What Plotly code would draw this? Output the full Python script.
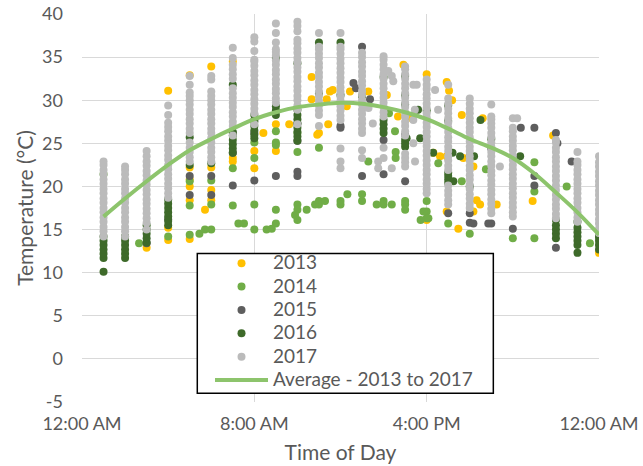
import plotly.graph_objects as go

# ---------------- data ----------------
hours = list(range(1, 25))

# 2017 (light grey) – values per hour column 1..24
t2017 = [
    [14.2, 14.8, 15.3, 15.9, 16.4, 17.0, 17.5, 18.1, 18.6, 19.2, 19.7, 20.3, 20.8, 21.4, 21.9, 22.5, 22.9],
    [14.2, 14.8, 15.3, 15.9, 16.4, 17.0, 17.5, 18.1, 18.6, 19.2, 19.7, 20.3, 20.8, 21.4, 21.9, 22.3],
    [15.0, 15.8, 16.3, 16.9, 17.4, 18.0, 18.5, 19.1, 19.6, 20.2, 20.7, 21.3, 21.8, 22.4, 22.9, 23.5, 24.1],
    [18.7, 19.2, 19.8, 20.3, 20.9, 21.4, 22.0, 22.5, 23.1, 23.6, 24.2, 24.7, 25.3, 25.8, 26.4, 26.9, 27.4, 28.3, 29.4],
    [22.9, 23.4, 24.0, 24.5, 25.1, 26.2, 26.7, 27.3, 27.8, 28.4, 28.9, 29.5, 30.0, 30.5, 30.9, 31.8, 32.8],
    [22.9, 23.4, 24.0, 24.5, 25.1, 25.6, 26.2, 26.7, 27.3, 27.8, 28.4, 28.9, 29.5, 30.0, 30.5, 31.0, 32.4, 32.8],
    [25.9, 27.0, 27.5, 28.1, 28.6, 29.2, 29.7, 30.3, 30.8, 31.4, 32.5, 33.0, 33.6, 34.1, 34.9, 36.1],
    [27.2, 28.5, 29.0, 29.6, 30.1, 30.7, 31.2, 31.8, 32.3, 32.9, 33.4, 34.0, 34.5, 34.7, 35.7, 36.8, 37.3],
    [29.7, 30.2, 30.8, 31.3, 31.9, 32.4, 33.0, 33.5, 34.1, 34.6, 35.2, 35.6, 35.9, 36.7, 37.8, 38.9],
    [27.2, 28.9, 29.4, 30.0, 30.5, 31.1, 31.6, 32.2, 32.7, 33.3, 33.8, 34.4, 34.9, 35.5, 36.0, 36.6, 37.0, 38.0, 38.6, 39.1],
    [27.0, 28.3, 28.8, 29.4, 29.9, 30.5, 31.0, 31.6, 32.1, 32.7, 33.2, 33.8, 34.3, 34.9, 35.4, 35.9, 36.2, 37.8],
    [22.1, 22.9, 24.4, 27.7, 28.2, 28.8, 29.3, 29.9, 30.4, 31.0, 31.5, 32.1, 32.6, 33.2, 33.7, 34.3, 34.8, 35.4, 35.9, 36.2, 37.8],
    [23.3, 24.2, 26.2, 26.7, 27.3, 27.8, 28.4, 28.9, 29.5, 30.0, 30.6, 31.1, 31.7, 32.2, 32.8, 33.3, 33.9, 34.4, 35.0, 35.5],
    [23.3, 24.5, 28.1, 28.6, 29.2, 29.7, 30.3, 30.8, 31.4, 31.9, 32.5, 33.0, 33.6, 34.1, 34.7, 35.1],
    [22.3, 22.8, 23.3, 23.8, 25.9, 26.4, 27.0, 27.5, 28.1, 28.6, 29.2, 29.7, 30.3, 30.8, 31.4, 31.9, 32.5, 33.0, 33.6, 33.9],
    [19.2, 19.7, 20.3, 20.8, 21.4, 21.9, 22.5, 23.0, 23.6, 24.1, 24.7, 25.2, 25.8, 26.3, 26.9, 27.4, 28.0, 28.5, 29.1, 29.6, 30.2, 30.7, 31.3, 31.8, 32.4],
    [17.9, 18.4, 19.0, 19.5, 20.1, 21.9, 22.4, 23.0, 23.5, 24.1, 24.6, 25.2, 25.7, 26.3, 26.8, 27.4, 27.9, 28.5, 29.0, 29.6, 30.2, 31.8],
    [17.5, 18.0, 18.6, 19.1, 19.7, 20.2, 20.8, 21.3, 21.9, 22.4, 23.0, 23.5, 24.1, 24.6, 25.2, 25.7, 26.3, 26.8, 27.4, 27.9, 28.5, 29.0, 29.6, 30.2],
    [16.9, 17.4, 18.0, 18.5, 19.1, 19.6, 20.2, 20.7, 21.3, 21.8, 22.4, 22.9, 23.5, 24.0, 24.6, 25.1, 25.7, 26.2, 26.8, 27.3, 27.8, 28.1, 29.5],
    [16.5, 17.0, 17.6, 18.1, 18.7, 19.2, 19.8, 20.3, 20.9, 21.4, 22.0, 22.5, 23.1, 23.6, 24.2, 24.7, 25.3, 25.8, 26.4, 26.8, 27.9],
    [],
    [16.3, 16.8, 17.4, 17.9, 18.5, 19.0, 19.6, 20.1, 20.7, 21.2, 21.8, 22.3, 22.9, 23.4, 24.0, 24.5, 25.1, 25.4],
    [15.9, 16.4, 17.0, 17.5, 18.1, 18.6, 19.2, 19.7, 20.3, 20.8, 21.4, 21.9, 22.5, 22.9, 24.0],
    [14.6, 15.1, 15.7, 16.2, 16.8, 17.3, 17.9, 18.4, 19.0, 19.5, 20.1, 20.6, 21.2, 21.7, 22.3, 22.8, 23.5],
]
x2017_extra = [14.22, 14.38, 14.45, 15.38, 15.54, 16.39, 16.53, 19.4, 13.75, 13.75, 14.38, 15.46, 15.45, 15.38, 15.38, 13.3, 13.5, 20.2]
y2017_extra = [33.4, 32.8, 32.2, 31.8, 31.8, 31.2, 28.9, 22.3, 22.9, 22.1, 22.1, 22.9, 28.9, 27.7, 25.0, 29.1, 27.3, 27.9]

# 2016 (dark green)
t2016 = [
    [10.1, 11.7, 12.2, 12.7, 13.2, 13.7, 14.2],
    [11.7, 12.2, 12.7, 13.2, 13.7, 14.2],
    [13.5, 14.0, 14.5, 15.0, 15.5],
    [15.5, 16.0, 16.5, 17.0, 17.5, 18.0, 18.5],
    [22.5, 25.7],
    [22.7],
    [23.9, 24.4, 24.9, 25.4, 25.9, 26.3, 31.8],
    [25.6, 26.0, 26.5, 27.0, 27.5, 28.3],
    [28.3, 28.8, 29.3, 34.9],
    [25.3, 25.8, 26.3, 26.8, 27.3, 27.8, 28.3, 28.9, 34.3],
    [30.8, 36.7],
    [30.6, 36.7],
    [30.5],
    [26.2, 26.7, 27.2, 27.7, 32.7],
    [24.6, 25.0, 25.4, 29.5, 30.6, 32.8],
    [28.8],
    [20.4, 20.8, 21.2, 21.6, 27.6, 29.4],
    [23.5, 20.0],
    [25.5],
    [],
    [],
    [14.0, 14.5, 15.0, 15.5, 16.1],
    [12.3, 13.2, 13.7, 14.2, 14.7, 15.2, 15.9],
    [12.7, 13.2, 13.7, 14.1, 14.4],
]
x2016_extra = [15.6, 15.07, 15.7, 16.3, 17.2, 17.55, 17.24, 18.5, 20.34, 18.2]
y2016_extra = [28.9, 25.6, 25.6, 23.9, 23.9, 23.5, 20.6, 27.7, 23.5, 23.5]

# 2015 (dark grey)
t2015 = [
    [], [], [13.4], [16.2], [21.2, 19.0], [21.2, 19.0], [26.2, 23.9, 20.1],
    [27.7, 26.2, 20.7], [21.2], [27.3, 25.3, 21.7, 21.2], [], [27.0, 26.8],
    [36.2, 21.2], [25.4, 21.4], [26.0, 20.6], [], [16.9], [16.9, 15.8],
    [24.4, 15.7], [15.1], [26.8, 21.2, 20.1], [26.2, 12.9], [], [],
]
x2015_extra = [12.6, 12.72, 13.37, 20.37, 22.07, 22.73, 18.17, 18.86]
y2015_extra = [32.0, 31.4, 30.1, 26.8, 25.0, 22.9, 15.7, 15.7]

# 2014 (green)
t2014 = [
    [21.4], [], [], [14.2], [20.6, 17.8, 14.4], [20.7, 17.9, 15.0], [22.1, 17.8],
    [25.1, 23.3, 17.9, 15.0], [26.4, 25.1, 24.8, 17.3, 15.7], [26.2, 24.0, 17.9, 17.3, 16.1],
    [24.5, 18.3, 17.9], [18.3, 17.9], [19.1, 18.3], [18.3, 17.9], [18.3, 17.9, 17.3],
    [18.3, 17.1, 16.3], [15.7], [14.5], [], [14.0], [22.8, 19.4, 14.0], [], [], [],
]
x2014_extra = [2.65, 5.45, 5.71, 7.26, 7.52, 8.57, 8.81, 9.89, 10.43, 10.82, 11.28, 12.32,
               13.68, 14.38, 15.85, 15.72, 16.08, 13.29, 14.56, 14.56, 14.25, 14.53,
               17.63, 22.5, 23.58, 16.54, 18.75]
y2014_extra = [13.4, 14.5, 15.0, 15.7, 15.7, 15.0, 15.1, 16.7, 17.3, 17.9, 18.3, 19.1,
               17.9, 17.9, 17.1, 16.1, 16.3, 22.9, 24.0, 23.3, 28.5, 26.4,
               20.6, 20.0, 13.4, 22.7, 22.0]

# 2013 (gold)
t2013 = [
    [], [], [12.9], [31.1, 15.2, 13.8], [32.9, 22.2, 20.8, 20.0, 18.4, 13.9],
    [33.9, 22.2, 19.6, 18.4], [34.5, 23.3, 22.9], [24.1, 22.1], [27.2, 24.1], [],
    [26.2], [], [], [], [], [33.0, 16.1], [], [], [], [], [], [], [], [12.3],
]
x2013_extra = [5.71, 8.42, 9.62, 10.66, 10.66, 10.92, 11.36, 11.43, 11.51, 11.64, 12.29,
               12.44, 13.29, 14.15, 14.67, 15.31, 14.92, 16.93, 17.04, 17.18, 17.63,
               18.6, 21.87, 16.31, 16.62, 16.93, 18.17, 18.32, 18.48, 17.47, 16.93,
               17.7, 18.17, 19.25, 20.92]
y2013_extra = [17.3, 26.2, 27.2, 32.7, 30.1, 26.0, 30.1, 27.2, 31.0, 31.2, 29.3,
               31.0, 31.0, 30.6, 28.1, 27.9, 34.1, 32.1, 31.1, 30.0, 28.3,
               27.9, 25.9, 23.9, 23.5, 23.5, 17.1, 18.4, 17.9, 15.1, 17.1,
               23.3, 22.3, 17.9, 18.3]

# Average - 2013 to 2017 (hourly)
avg_temp = [16.5, 18.6, 20.6, 22.5, 24.2, 25.5, 26.7, 27.8, 28.6, 29.2, 29.5, 29.7,
            29.6, 29.2, 28.6, 27.8, 26.7, 25.5, 24.5, 23.3, 21.5, 19.3, 17.0, 14.4]

x_tickvals = [0, 8, 16, 24]
x_ticktext = ["12:00 AM", "8:00 AM", "4:00 PM", "12:00 AM"]
y_tickvals = [-5, 0, 5, 10, 15, 20, 25, 30, 35, 40]
y_ticktext = ["-5", "0", "5", "10", "15", "20", "25", "30", "35", "40"]

# ---------------- figure ----------------
def flatten(cols, xe, ye):
    xs, ys = [], []
    for h, vals in zip(hours, cols):
        for v in vals:
            xs.append(h)
            ys.append(v)
    return xs + list(xe), ys + list(ye)

series = [
    ("2013", t2013, x2013_extra, y2013_extra, "#FFC000"),
    ("2014", t2014, x2014_extra, y2014_extra, "#70AD47"),
    ("2015", t2015, x2015_extra, y2015_extra, "#5E5E5E"),
    ("2016", t2016, x2016_extra, y2016_extra, "#3E6A2A"),
    ("2017", t2017, x2017_extra, y2017_extra, "#BBBBBB"),
]

FONT = "Lato"
TXT = "#595959"
LEG = '<span style="font-size:19px">{}</span>'

fig = go.Figure()
for name, cols, xe, ye, color in series:
    xs, ys = flatten(cols, xe, ye)
    fig.add_trace(go.Scatter(x=xs, y=ys, mode="markers", name=LEG.format(name),
                             marker=dict(size=8, color=color, line=dict(width=0))))

fig.add_trace(go.Scatter(x=hours, y=avg_temp, mode="lines",
                         name=LEG.format("Average - 2013 to 2017"),
                         line=dict(color="#8DC46C", width=4, shape="spline")))

# legend box (white, black border)
fig.add_shape(type="rect", xref="paper", yref="paper",
              x0=0.223, x1=0.7956, y0=0.0224, y1=0.383,
              line=dict(color="black", width=1.5), fillcolor="white", layer="above")

fig.update_layout(
    width=643, height=466,
    margin=dict(l=82, r=44, t=14, b=64),
    paper_bgcolor="white", plot_bgcolor="white",
    font=dict(family=FONT, color=TXT, size=16),
    showlegend=True,
    legend=dict(x=0.2476, y=0.4005, xanchor="left", yanchor="top",
                bgcolor="rgba(0,0,0,0)", borderwidth=0,
                font=dict(family=FONT, size=15.65, color=TXT),
                itemwidth=53, tracegroupgap=0),
    xaxis=dict(range=[0, 24], tickvals=x_tickvals, ticktext=x_ticktext,
               showgrid=True, gridcolor="#D9D9D9", gridwidth=1,
               zeroline=False, showline=False, ticks="", automargin=False,
               ticklabelstandoff=9,
               tickfont=dict(size=18, color=TXT),
               title=dict(text="Time of Day", font=dict(size=21, color=TXT), standoff=12)),
    yaxis=dict(range=[-5, 40], tickvals=y_tickvals, ticktext=y_ticktext,
               showgrid=True, gridcolor="#D9D9D9", gridwidth=1,
               zeroline=False, showline=False, ticks="", automargin=False,
               ticklabelstandoff=18,
               tickfont=dict(size=18, color=TXT),
               title=dict(text="Temperature (°C)", font=dict(size=21, color=TXT), standoff=2)),
)

fig.write_html("out.html")
